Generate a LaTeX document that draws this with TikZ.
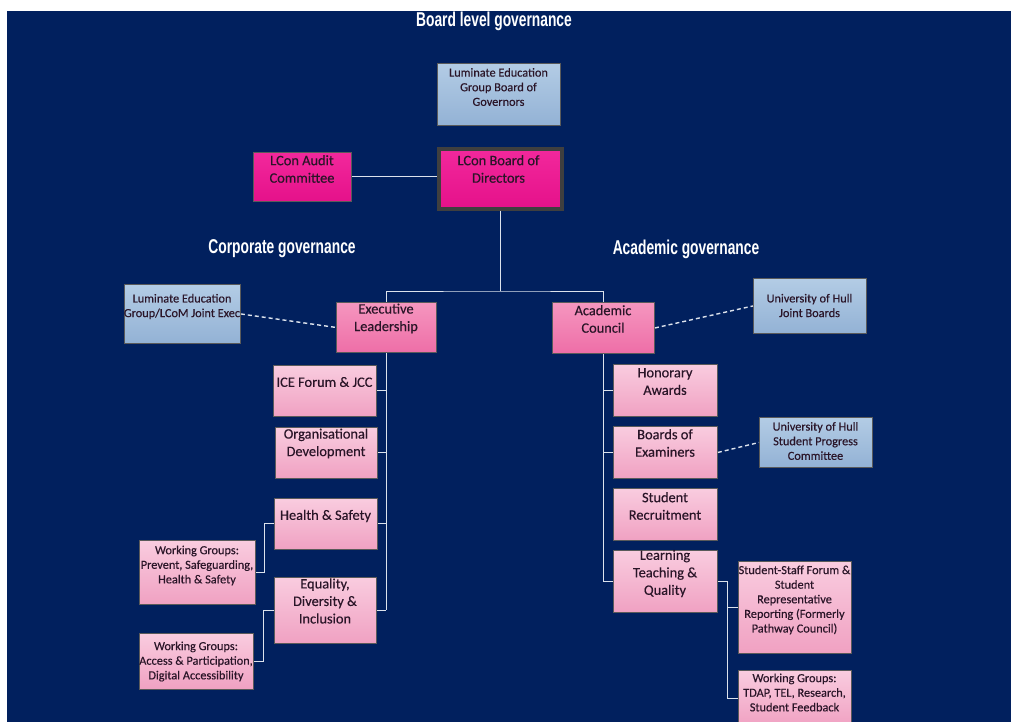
\documentclass[tikz,border=0pt]{standalone}
\usepackage{fontspec}
\newfontfamily\carl[FakeBold=0.35]{Carlito}
\newfontfamily\headf[FakeStretch=0.69]{Liberation Sans}
\definecolor{navy}{HTML}{01205E}
\definecolor{magtop}{HTML}{F2289C}
\definecolor{magbot}{HTML}{E5118A}
\definecolor{midtop}{HTML}{F596BF}
\definecolor{midbot}{HTML}{EE6EA7}
\definecolor{lighttop}{HTML}{F9CCDF}
\definecolor{lightbot}{HTML}{F0A1C2}
\definecolor{bluetop}{HTML}{B3CCE5}
\definecolor{bluebot}{HTML}{93B2D5}
\definecolor{bordc}{HTML}{5A5A5A}
\definecolor{thickc}{HTML}{3F3F3F}
\definecolor{txtc}{HTML}{2A1528}
\definecolor{linec}{HTML}{DCE2EC}
\tikzset{
  bx/.style={draw=bordc, line width=0.9pt, anchor=north west, inner sep=0pt},
  magbox/.style={bx, top color=magtop, bottom color=magbot},
  midbox/.style={bx, top color=midtop, bottom color=midbot},
  lightbox/.style={bx, top color=lighttop, bottom color=lightbot},
  bluebox/.style={bx, top color=bluetop, bottom color=bluebot},
  t13/.style={font=\carl\fontsize{14.4}{17.5}\selectfont, text=txtc, align=center, inner sep=0pt},
  t11/.style={font=\carl\fontsize{12.3}{14.6}\selectfont, text=txtc, align=center, inner sep=0pt},
  hd/.style={font=\headf\bfseries\fontsize{20}{22}\selectfont, text=white, inner sep=0pt},
  conn/.style={draw=linec, line width=1pt},
  dconn/.style={draw=linec, line width=1.4pt, dash pattern=on 4pt off 3pt}
}
\newcommand\gb[6]{\node[#2, minimum width={#5pt-#3pt}, minimum height={#6pt-#4pt}] (#1) at (#3,#4) {};}
\begin{document}
\begin{tikzpicture}[x=1pt,y=-1pt]
\useasboundingbox (0,0) rectangle (1011,722);
\clip (0,0) rectangle (1011,722);
\fill[white] (0,0) rectangle (1011,722);
\fill[navy] (7,11) rectangle (1011,722);

% headings
\node[hd] (h-board) at (494,21.5) {Board level governance};
\node[hd] (h-corp) at (282,249) {Corporate governance};
\node[hd] (h-acad) at (686,249) {Academic governance};

% boxes
\gb{gov}{bluebox}{437}{63}{560}{125}
\gb{audit}{magbox}{253}{152}{351}{201}
\gb{board}{magbox, draw=thickc, line width=3.6pt}{437}{147}{560}{207}
\gb{joint}{bluebox}{124}{284}{240}{343}
\gb{exec}{midbox}{336}{302}{436}{352}
\gb{acad}{midbox}{552}{302}{654}{353}
\gb{hull}{bluebox}{753}{278}{866}{333}
\gb{ice}{lightbox}{273}{365}{376}{416}
\gb{orgdev}{lightbox}{275}{427}{377}{478}
\gb{hs}{lightbox}{274}{498}{377}{549}
\gb{wgone}{lightbox}{139}{540}{255}{604}
\gb{edi}{lightbox}{274}{577}{376}{643}
\gb{wgtwo}{lightbox}{139}{633}{253}{689}
\gb{honor}{lightbox}{613}{364}{717}{416}
\gb{boe}{lightbox}{613}{426}{717}{478}
\gb{hullspc}{bluebox}{759}{417}{872}{467}
\gb{strec}{lightbox}{613}{488}{717}{540}
\gb{ltq}{lightbox}{613}{550}{717}{612}
\gb{ssf}{lightbox}{738}{561}{851}{653}
\gb{wgthree}{lightbox}{738}{670}{851}{726}

% texts
\node[t11] (gov-t) at (498.5,87) {Luminate Education\\Group Board of\\Governors};
\node[t13] (audit-t) at (302,169) {LCon Audit\\Committee};
\node[t13] (board-t) at (498.5,169) {LCon Board of\\Directors};
\node[t11] (joint-t) at (182,306.5) {Luminate Education\\Group/LCoM Joint Exec};
\node[t13] (exec-t) at (386,318.5) {Executive\\Leadership};
\node[t13] (acad-t) at (603,319) {Academic\\Council};
\node[t11] (hull-t) at (809.5,305.5) {University of Hull\\Joint Boards};
\node[t13] (ice-t) at (324.5,382) {ICE Forum \& JCC};
\node[t13] (orgdev-t) at (326,443.5) {Organisational\\Development};
\node[t13] (hs-t) at (325.5,516) {Health \& Safety};
\node[t11] (wgone-t) at (197,565.5) {Working Groups:\\Prevent, Safeguarding,\\Health \& Safety};
\node[t13] (edi-t) at (325,601) {Equality,\\Diversity \&\\Inclusion};
\node[t11] (wgtwo-t) at (196,661.5) {Working Groups:\\Access \& Participation,\\Digital Accessibility};
\node[t13] (honor-t) at (665,381.5) {Honorary\\Awards};
\node[t13] (boe-t) at (665,443) {Boards of\\Examiners};
\node[t11] (hullspc-t) at (815.5,441) {University of Hull\\Student Progress\\Committee};
\node[t13] (strec-t) at (665,506) {Student\\Recruitment};
\node[t13] (ltq-t) at (665,573.5) {Learning\\Teaching \&\\Quality};
\node[t11] (ssf-t) at (794.5,600) {Student-Staff Forum \&\\Student\\Representative\\Reporting (Formerly\\Pathway Council)};
\node[t11] (wgthree-t) at (794.5,692.5) {Working Groups:\\TDAP, TEL, Research,\\Student Feedback};

% connectors
\coordinate (split) at (499,291);
\coordinate (hsj) at (264,0);
\coordinate (edij) at (263,0);
\coordinate (ltqj) at (727,0);
\draw[conn] (audit.east) -- (audit.east -| board.west);
\draw[conn] (board.south) -- (board.south |- split);
\draw[conn] (exec.north) |- (split) -| (acad.north);
\draw[conn] (exec.south) -- (exec.south |- edi.east);
\draw[conn] (ice.east) -- (ice.east -| exec.south);
\draw[conn] (orgdev.east) -- (orgdev.east -| exec.south);
\draw[conn] (hs.east) -- (hs.east -| exec.south);
\draw[conn] (edi.east) -- (edi.east -| exec.south);
\draw[conn] (hs.west) -- (hs.west -| hsj) |- (wgone.east);
\draw[conn] (edi.west) -- (edi.west -| edij) |- (wgtwo.east);
\draw[conn] (acad.south) -- (acad.south |- ltq.west);
\draw[conn] (honor.west) -- (honor.west -| acad.south);
\draw[conn] (boe.west) -- (boe.west -| acad.south);
\draw[conn] (ltq.west) -- (ltq.west -| acad.south);
\draw[conn] (ltq.east) -- (ltq.east -| ltqj) |- (wgthree.west);
\draw[conn] (ssf.west -| ltqj) -- (ssf.west);
\draw[dconn] (joint.east) -- (exec.west);
\draw[dconn] (acad.east) -- (hull.west);
\draw[dconn] (boe.east) -- (hullspc.west);
\end{tikzpicture}
\end{document}
